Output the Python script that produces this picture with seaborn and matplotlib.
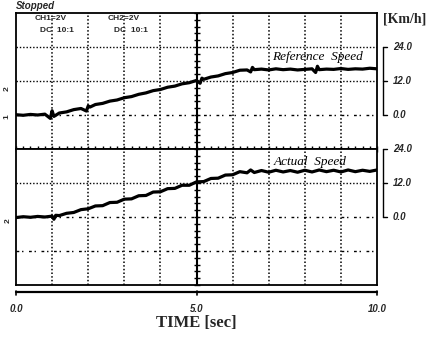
import numpy as np
import pandas as pd
import matplotlib
matplotlib.use("Agg")
import matplotlib.pyplot as plt
from matplotlib import transforms
import seaborn as sns

# Speed traces (km/h) recorded over a 10 s window
ref_time = [0.0, 0.2, 0.4, 0.6, 0.8, 0.95, 1.0, 1.05, 1.2, 1.4, 1.6, 1.8, 1.95, 2.0, 2.05,
            2.2, 2.4, 2.6, 2.8, 3.0, 3.2, 3.4, 3.6, 3.8, 4.0, 4.2, 4.4, 4.6, 4.8, 5.0,
            5.1, 5.15, 5.2, 5.4, 5.6, 5.8, 6.0, 6.2, 6.4, 6.5, 6.55, 6.6, 6.8, 7.0, 7.2,
            7.4, 7.6, 7.8, 8.0, 8.2, 8.3, 8.35, 8.4, 8.6, 8.8, 9.0, 9.2, 9.4, 9.6, 9.8, 10.0]
ref_speed = [0.1, -0.1, 0.2, 0.0, 0.3, -1.2, 1.5, -0.5, 0.7, 1.1, 1.9, 2.3, 1.4, 3.2, 2.8,
             3.7, 4.1, 4.9, 5.3, 6.1, 6.5, 7.3, 7.8, 8.6, 9.0, 9.8, 10.2, 11.0, 11.4, 12.2,
             11.2, 13.0, 12.6, 13.4, 13.8, 14.6, 15.0, 15.8, 15.9, 15.2, 16.8, 16.0, 16.2, 15.9, 16.3,
             16.0, 16.2, 15.9, 16.1, 16.3, 15.0, 17.2, 16.0, 16.2, 16.1, 16.4, 16.1, 16.3, 16.2, 16.5, 16.3]

act_time = [0.0, 0.2, 0.4, 0.6, 0.8, 1.0, 1.05, 1.1, 1.2, 1.4, 1.6, 1.8, 2.0, 2.2, 2.4,
            2.6, 2.8, 3.0, 3.2, 3.4, 3.6, 3.8, 4.0, 4.2, 4.4, 4.6, 4.8, 5.0, 5.2, 5.4,
            5.6, 5.8, 6.0, 6.2, 6.4, 6.5, 6.6, 6.8, 7.0, 7.2, 7.4, 7.6, 7.8, 8.0, 8.2,
            8.4, 8.6, 8.8, 9.0, 9.2, 9.4, 9.6, 9.8, 10.0]
act_speed = [-0.2, 0.1, -0.1, 0.2, 0.0, 0.3, -0.8, 0.6, 0.5, 1.3, 1.6, 2.6, 2.9, 3.9, 4.0,
             5.1, 5.2, 6.3, 6.4, 7.5, 7.6, 8.8, 8.9, 10.0, 10.1, 11.2, 11.2, 12.4, 12.5, 13.6,
             13.7, 14.8, 14.9, 16.0, 15.6, 16.6, 15.7, 16.4, 15.8, 16.5, 15.9, 16.4, 15.8, 16.5, 15.9,
             16.6, 16.0, 16.5, 15.9, 16.6, 16.0, 16.5, 16.1, 16.6]

time_ticks = [0.0, 5.0, 10.0]
time_labels = ["0.0", "5.0", "10.0"]
scale_ticks = [0.0, 12.0, 24.0]
scale_labels = ["0.0", "12.0", "24.0"]

sns.set_style("white")
plt.rcParams["font.family"] = ["Liberation Sans", "DejaVu Sans"]

W, H = 430, 338
fig = plt.figure(figsize=(W / 100, H / 100), dpi=100)
fig.patch.set_facecolor("white")

L, R = 16, 377
ax_top = fig.add_axes([L / W, 1 - 149 / H, (R - L) / W, 136 / H])
ax_bot = fig.add_axes([L / W, 1 - 285 / H, (R - L) / W, 136 / H])

ax_top.set_ylim(-12, 36)
ax_bot.set_ylim(-24, 24)

dot = (0, (1.0, 1.4))
sparse = (0, (2.0, 2.0, 1.0, 4.0))
for ax in (ax_top, ax_bot):
    ax.set_xlim(0, 10)
    ax.set_facecolor("white")
    for s in ax.spines.values():
        s.set_visible(True)
        s.set_color("black")
        s.set_linewidth(1.3)
    ax.tick_params(left=False, right=False, labelleft=False, bottom=False, top=False)
    for t in range(1, 10):
        if t != 5:
            ax.axvline(t, color="black", lw=1.1, ls=dot, zorder=1)
    ax.axvline(5, color="black", lw=1.5, zorder=2)

for y, ls in ((0, sparse), (12, dot), (24, dot)):
    ax_top.axhline(y, color="black", lw=1.0, ls=ls, zorder=1)
for y, ls in ((12, dot), (0, sparse), (-12, sparse)):
    ax_bot.axhline(y, color="black", lw=1.0, ls=ls, zorder=1)

# graticule marks along the centre lines
minor_t = np.arange(0, 10.01, 0.2)
ax_top.plot(minor_t, np.full_like(minor_t, -12), ls="none", marker="|", ms=4,
            mew=1.0, color="black", clip_on=False, zorder=3)
for ax, lo, hi in ((ax_top, -12, 36), (ax_bot, -24, 24)):
    ys = np.arange(lo, hi + 0.01, 2.4)
    ax.plot(np.full_like(ys, 5.0), ys, ls="none", marker="_", ms=4,
            mew=1.0, color="black", clip_on=False, zorder=3)

ax_top.set_xticks([])
ax_top.tick_params(labelbottom=False)

# traces
ref = pd.DataFrame({"t": ref_time, "v": ref_speed})
act = pd.DataFrame({"t": act_time, "v": act_speed})
sns.lineplot(data=ref, x="t", y="v", ax=ax_top, color="black", lw=2.3, zorder=4)
sns.lineplot(data=act, x="t", y="v", ax=ax_bot, color="black", lw=2.3, zorder=4)
for ax in (ax_top, ax_bot):
    ax.set_xlabel("")
    ax.set_ylabel("")

ax_top.text(7.1, 20.3, "Reference  Speed", family="Liberation Serif", style="italic",
            fontsize=9.5, color="black", ha="left", va="center")
ax_bot.text(8.15, 19.5, "Actual  Speed", family="Liberation Serif", style="italic",
            fontsize=9.5, color="black", ha="center", va="center")

# time axis scale bar and labels
ax_bot.set_xticks(time_ticks)
ax_bot.set_xticklabels(time_labels, fontsize=7, fontweight="bold", style="italic")
ax_bot.tick_params(axis="x", bottom=False, pad=10)
bar_tr = transforms.blended_transform_factory(ax_bot.transData, ax_bot.transAxes)
yb = -7 / 136
ax_bot.plot([0, 10], [yb, yb], color="black", lw=1.6, transform=bar_tr, clip_on=False)
for x in time_ticks:
    ax_bot.plot([x, x], [yb - 3 / 136, yb + 1 / 136], color="black", lw=1.2,
                transform=bar_tr, clip_on=False)
ax_bot.set_xlabel("TIME [sec]", family="Liberation Serif", fontweight="bold",
                  fontsize=12, labelpad=1)

# vertical speed scales on the right
xs = (383 - L) / (R - L)
xt = (387 - L) / (R - L)
xl = (393 - L) / (R - L)
for ax in (ax_top, ax_bot):
    tr = transforms.blended_transform_factory(ax.transAxes, ax.transData)
    ax.plot([xs, xs], [scale_ticks[0], scale_ticks[-1]], color="black", lw=1.0,
            transform=tr, clip_on=False)
    for y, lab in zip(scale_ticks, scale_labels):
        ax.plot([xs, xt], [y, y], color="black", lw=1.0, transform=tr, clip_on=False)
        ax.text(xl, y, lab, transform=tr, fontsize=7, fontweight="bold",
                style="italic", ha="left", va="center")

fig.text(405 / W, 1 - 19 / H, "[Km/h]", family="Liberation Serif", fontweight="bold",
         fontsize=10, ha="center", va="center")

# scope header
fig.text(16 / W, 1 - 6 / H, "Stopped", fontsize=7, fontweight="bold", style="italic",
         ha="left", va="center")
fig.text(51 / W, 1 - 18 / H, "CH1=2V", fontsize=6, fontweight="bold", ha="center", va="center")
fig.text(57 / W, 1 - 30 / H, "DC  10:1", fontsize=6, fontweight="bold", ha="center", va="center")
fig.text(124 / W, 1 - 18 / H, "CH2=2V", fontsize=6, fontweight="bold", ha="center", va="center")
fig.text(131 / W, 1 - 30 / H, "DC  10:1", fontsize=6, fontweight="bold", ha="center", va="center")

# channel markers on the left edge
fig.text(7 / W, 1 - 89 / H, "2", fontsize=6, fontweight="bold", rotation=90,
         ha="center", va="center")
fig.text(7 / W, 1 - 117 / H, "1", fontsize=6, fontweight="bold", rotation=90,
         ha="center", va="center")
fig.text(8 / W, 1 - 221 / H, "2", fontsize=6, fontweight="bold", rotation=90,
         ha="center", va="center")

fig.savefig("out.png", dpi=100, facecolor="white")
